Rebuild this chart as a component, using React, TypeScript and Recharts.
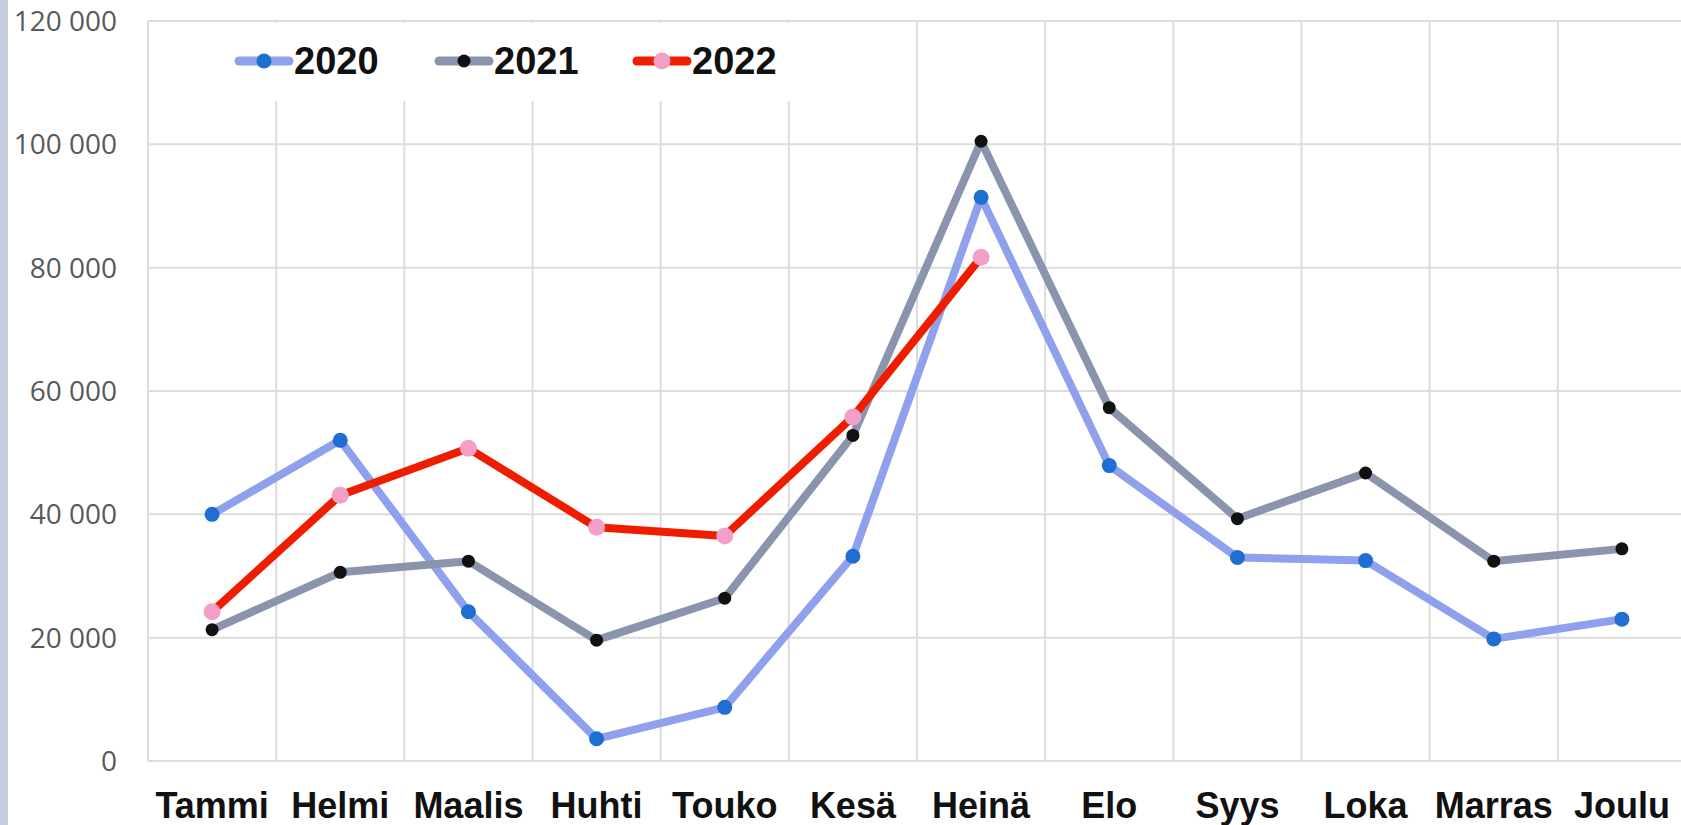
import React from 'react';
import { LineChart, Line, XAxis, YAxis, CartesianGrid } from 'recharts';

const months = ['Tammi', 'Helmi', 'Maalis', 'Huhti', 'Touko', 'Kesä', 'Heinä', 'Elo', 'Syys', 'Loka', 'Marras', 'Joulu'];
const v2020 = [40000, 52000, 24200, 3600, 8700, 33200, 91400, 47900, 33000, 32500, 19800, 23000];
const v2021 = [21300, 30600, 32400, 19600, 26400, 52800, 100500, 57300, 39300, 46700, 32400, 34400];
const v2022: (number | null)[] = [24200, 43100, 50700, 37900, 36500, 55800, 81700, null, null, null, null, null];
const yTicks = [0, 20000, 40000, 60000, 80000, 100000, 120000];

const seriesNames = ['2020', '2021', '2022'];
const lineColors = ['#8fa0ec', '#8a94ad', '#ee1d00'];
const dotColors = ['#1f6fd2', '#111111', '#f2a0c8'];
const dotRadii = [7.5, 6.5, 8.5];

const data = months.map((m, i) => ({ month: m, s2020: v2020[i], s2021: v2021[i], s2022: v2022[i] }));
const keys = ['s2020', 's2021', 's2022'];

const fmt = (v: number) => String(v).replace(/\B(?=(\d{3})+(?!\d))/g, ' ');

const legendLeft = [234, 434, 632];

export default function App() {
  return (
    <div style={{ position: 'absolute', left: 0, top: 0, width: 1681, height: 825, overflow: 'hidden', background: '#fff' }}>
      <LineChart width={1700} height={825} data={data} margin={{ top: 21, right: 14, left: 0, bottom: 0 }}>
        <CartesianGrid
          stroke="#dcdcdc"
          strokeWidth={2}
          verticalCoordinatesGenerator={(props: any) => {
            const o = props.offset;
            return Array.from({ length: 13 }, (_, i) => o.left + (i * o.width) / 12);
          }}
        />
        <XAxis
          dataKey="month"
          scale="band"
          interval={0}
          axisLine={false}
          tickLine={false}
          tickSize={0}
          tickMargin={31}
          height={64}
          tick={{ fontFamily: 'Liberation Sans, Arial, sans-serif', fontWeight: 700, fontSize: 36, fill: '#111' }}
        />
        <YAxis
          domain={[0, 120000]}
          ticks={yTicks}
          width={148}
          axisLine={false}
          tickLine={false}
          tickSize={0}
          tickMargin={31}
          tickFormatter={fmt}
          tick={{ fontFamily: 'Open Sans, sans-serif', fontSize: 28, fill: '#595959' }}
        />
        {keys.map((k, i) => (
          <Line
            key={k}
            dataKey={k}
            stroke={lineColors[i]}
            strokeWidth={8}
            strokeLinejoin="round"
            strokeLinecap="round"
            dot={{ r: dotRadii[i], fill: dotColors[i], stroke: 'none', strokeWidth: 0 }}
            activeDot={false}
            isAnimationActive={false}
            connectNulls={false}
          />
        ))}
      </LineChart>
      <div style={{ position: 'absolute', left: 150, top: 23, width: 680, height: 78, background: '#fff' }} />
      {seriesNames.map((n, i) => (
        <div key={n} style={{ position: 'absolute', left: legendLeft[i], top: 38, height: 46, display: 'flex', alignItems: 'center' }}>
          <svg width={60} height={20} style={{ display: 'block' }}>
            <line x1={5} y1={10} x2={55} y2={10} stroke={lineColors[i]} strokeWidth={9} strokeLinecap="round" />
            <circle cx={30} cy={10} r={dotRadii[i]} fill={dotColors[i]} />
          </svg>
          <span style={{ fontFamily: 'Liberation Sans, Arial, sans-serif', fontWeight: 700, fontSize: 38, color: '#111', lineHeight: '46px' }}>{n}</span>
        </div>
      ))}
      <div style={{ position: 'absolute', left: 0, top: 0, width: 8, height: 825, background: '#c8cce0' }} />
    </div>
  );
}
